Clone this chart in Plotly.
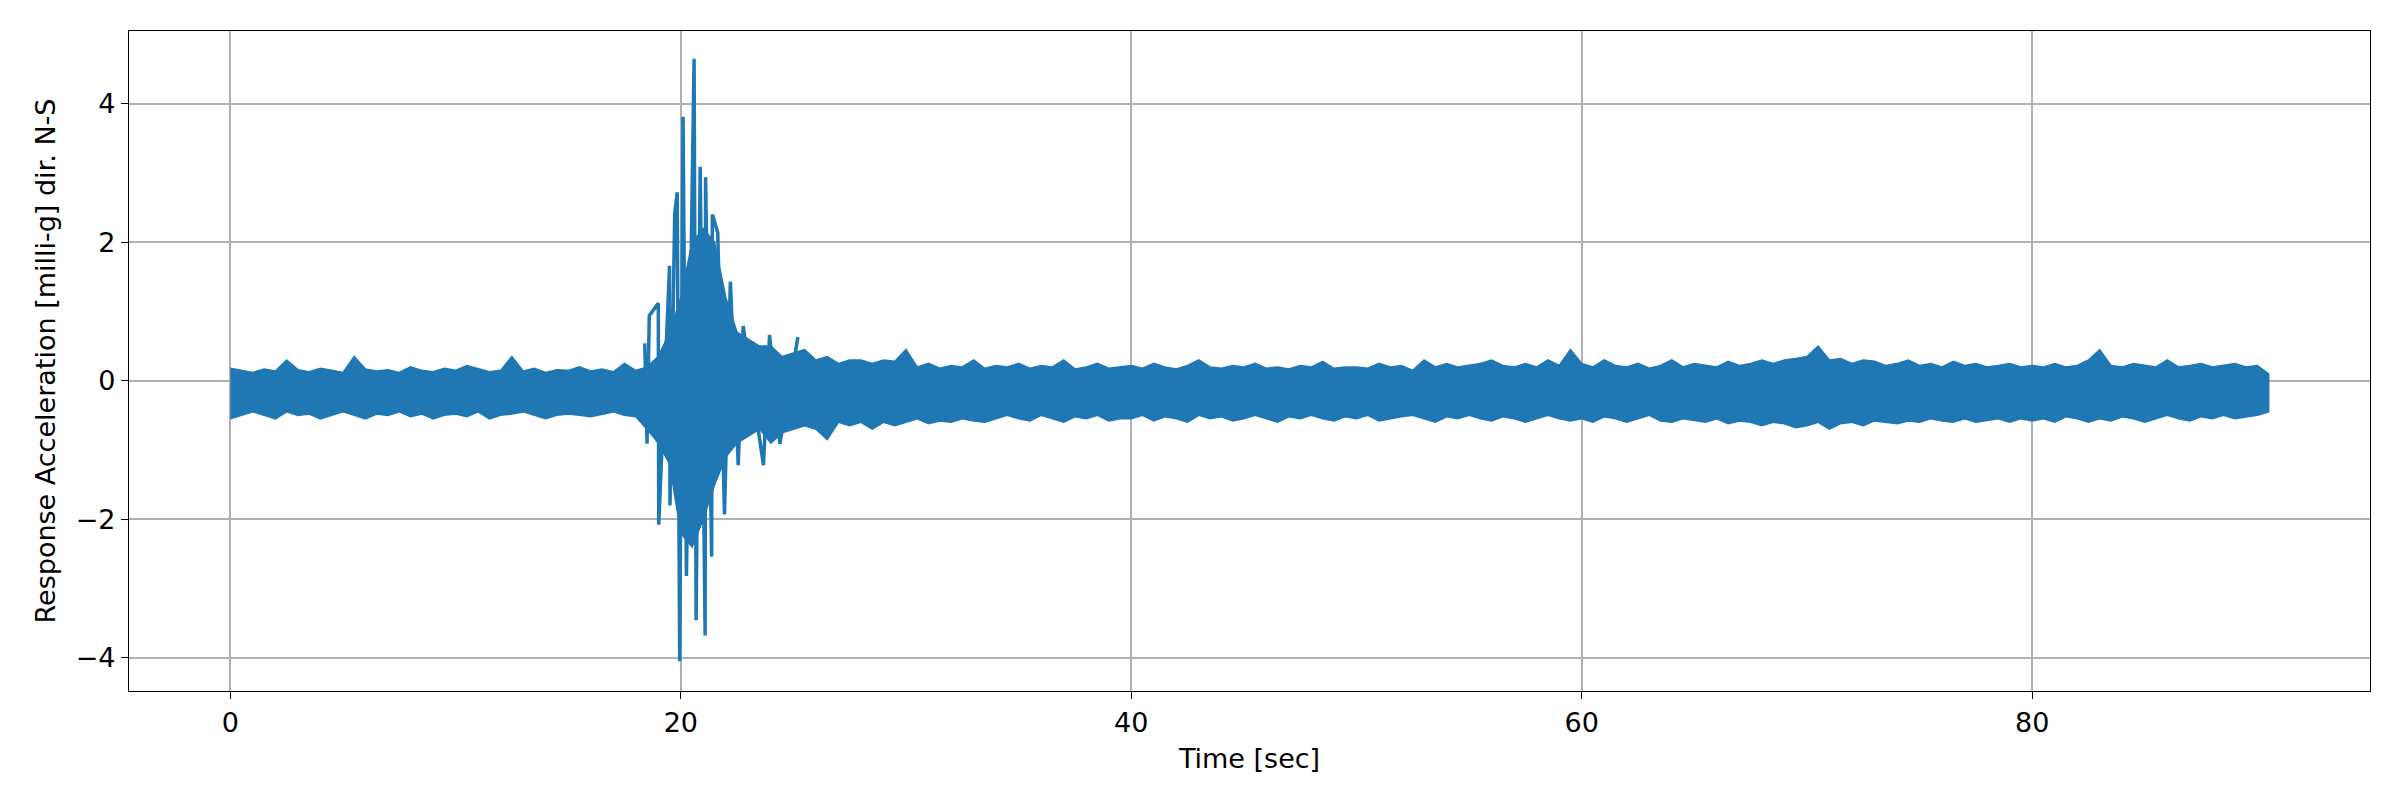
import numpy as np
import plotly.graph_objects as go

# envelope of the record, sampled every 0.5 s (milli-g)
t_env = np.arange(0, 91, 0.5)
hi = [0.18,0.15,0.12,0.17,0.14,0.3,0.16,0.13,0.18,0.15,0.12,0.35,0.17,0.14,0.16,0.12,0.2,0.15,0.13,0.18,
      0.15,0.22,0.17,0.13,0.15,0.35,0.14,0.18,0.12,0.16,0.15,0.2,0.14,0.17,0.13,0.25,0.15,0.2,0.35,0.7,
      1.2,2.0,2.2,2.0,1.2,0.7,0.6,0.5,0.5,0.35,0.4,0.45,0.3,0.35,0.25,0.3,0.3,0.25,0.3,0.28,
      0.45,0.2,0.25,0.18,0.22,0.2,0.3,0.18,0.22,0.2,0.25,0.18,0.22,0.2,0.3,0.17,0.2,0.25,0.18,0.2,
      0.22,0.18,0.25,0.2,0.17,0.22,0.3,0.2,0.18,0.22,0.2,0.25,0.18,0.2,0.17,0.22,0.2,0.28,0.18,0.2,
      0.2,0.18,0.25,0.2,0.22,0.15,0.3,0.2,0.25,0.2,0.22,0.25,0.3,0.22,0.2,0.25,0.2,0.3,0.22,0.45,
      0.25,0.2,0.3,0.22,0.2,0.25,0.18,0.22,0.3,0.2,0.25,0.22,0.2,0.28,0.22,0.25,0.3,0.25,0.3,0.32,
      0.35,0.5,0.3,0.32,0.25,0.3,0.28,0.22,0.25,0.3,0.22,0.25,0.2,0.28,0.22,0.25,0.2,0.22,0.25,0.2,
      0.22,0.2,0.25,0.2,0.22,0.3,0.45,0.22,0.2,0.25,0.22,0.2,0.3,0.2,0.22,0.25,0.2,0.22,0.25,0.2,
      0.22,0.1]
lo = [-0.55,-0.5,-0.45,-0.5,-0.55,-0.45,-0.5,-0.48,-0.55,-0.5,-0.45,-0.5,-0.55,-0.48,-0.5,-0.45,-0.52,-0.48,-0.55,-0.5,
      -0.48,-0.52,-0.45,-0.55,-0.5,-0.48,-0.45,-0.5,-0.55,-0.5,-0.48,-0.5,-0.52,-0.48,-0.45,-0.5,-0.52,-0.7,-0.9,-1.2,
      -2.2,-2.4,-2.0,-1.5,-1.1,-0.9,-0.8,-0.7,-0.9,-0.75,-0.7,-0.65,-0.7,-0.85,-0.6,-0.65,-0.6,-0.7,-0.6,-0.65,
      -0.6,-0.55,-0.62,-0.58,-0.6,-0.55,-0.58,-0.6,-0.55,-0.5,-0.55,-0.58,-0.5,-0.55,-0.6,-0.52,-0.55,-0.5,-0.58,-0.55,
      -0.55,-0.5,-0.58,-0.52,-0.55,-0.6,-0.5,-0.55,-0.52,-0.58,-0.55,-0.5,-0.55,-0.6,-0.52,-0.55,-0.5,-0.55,-0.58,-0.52,
      -0.55,-0.5,-0.58,-0.55,-0.52,-0.5,-0.55,-0.6,-0.52,-0.55,-0.5,-0.55,-0.58,-0.52,-0.55,-0.6,-0.55,-0.5,-0.55,-0.58,
      -0.55,-0.6,-0.52,-0.55,-0.6,-0.55,-0.5,-0.58,-0.6,-0.55,-0.58,-0.6,-0.55,-0.62,-0.58,-0.6,-0.65,-0.6,-0.62,-0.68,
      -0.65,-0.6,-0.7,-0.62,-0.6,-0.65,-0.58,-0.6,-0.62,-0.58,-0.6,-0.55,-0.58,-0.6,-0.55,-0.6,-0.58,-0.55,-0.6,-0.55,
      -0.58,-0.55,-0.6,-0.52,-0.55,-0.6,-0.55,-0.58,-0.52,-0.55,-0.6,-0.55,-0.5,-0.55,-0.58,-0.52,-0.55,-0.5,-0.55,-0.52,
      -0.5,-0.45]

# main shock peaks
t_peak = [18.4,18.5,18.6,19.0,19.02,19.5,19.52,19.73,19.84,19.95,20.1,20.25,20.59,20.68,20.86,21.08,21.1,21.37,
          21.4,21.64,21.94,22.2,22.55,22.77,23.67,23.94,24.4,25.2]
v_peak = [0.54,-0.91,0.94,1.12,-2.08,1.66,-1.8,2.41,2.72,-4.05,3.81,-2.82,4.65,-3.46,3.09,-3.68,2.94,-2.54,
          2.4,2.14,-1.93,1.43,-1.22,0.79,-1.22,0.66,-0.91,0.63]

blue = "#1f77b4"
fig = go.Figure()
fig.add_trace(go.Scatter(x=list(t_env) + list(t_env[::-1]), y=hi + lo[::-1], fill="toself",
                         fillcolor=blue, line=dict(color=blue, width=1.5), mode="lines", hoverinfo="skip"))
fig.add_trace(go.Scatter(x=t_peak, y=v_peak, mode="lines", line=dict(color=blue, width=3.5)))

ax = dict(showline=True, linecolor="black", linewidth=1.2, mirror=True, ticks="outside",
          ticklen=7, tickcolor="black", showgrid=True, gridcolor="#b0b0b0", gridwidth=1.5,
          zeroline=False, tickfont=dict(size=27, color="black"))
fig.update_xaxes(ax, range=[-4.5, 95], tickvals=[0, 20, 40, 60, 80],
                 title=dict(text="Time [sec]", font=dict(size=27, color="black"), standoff=12))
fig.update_yaxes(ax, range=[-4.48, 5.05], tickvals=[-4, -2, 0, 2, 4], ticktext=["−4", "−2", "0", "2", "4"],
                 title=dict(text="Response Acceleration [milli-g] dir. N-S", font=dict(size=27, color="black"), standoff=12))
fig.update_layout(width=2400, height=800, showlegend=False, plot_bgcolor="white", paper_bgcolor="white",
                  font=dict(family="DejaVu Sans"), margin=dict(l=121, r=38, t=23, b=117))
fig.write_html("out.html")
